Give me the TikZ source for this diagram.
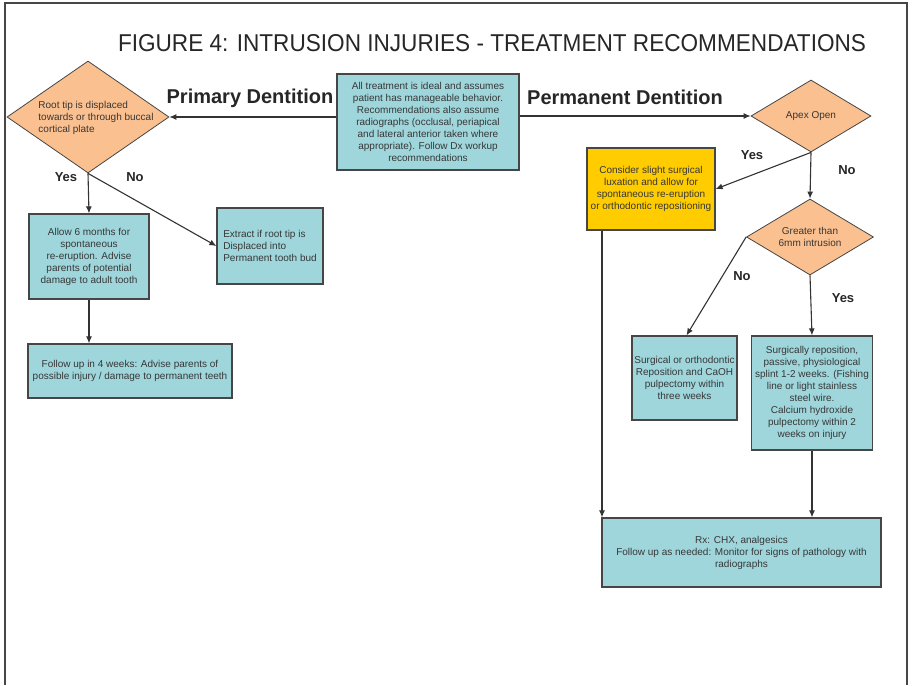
\documentclass[tikz,border=0pt]{standalone}
\usepackage{fontspec}
\setmainfont{Liberation Sans}
\usepackage{xcolor}
\usetikzlibrary{shapes.geometric,arrows.meta}
\definecolor{boxteal}{RGB}{158,214,220}
\definecolor{diamorange}{RGB}{250,192,143}
\definecolor{luxyellow}{RGB}{255,204,0}
\definecolor{edgegray}{RGB}{70,70,70}
\definecolor{txtgray}{RGB}{55,55,55}

\begin{document}
\begin{tikzpicture}[x=1pt, y=-1pt,
  box/.style={draw=edgegray, line width=1.2pt, fill=boxteal, inner sep=0pt},
  diam/.style={diamond, draw=edgegray, line width=0.8pt, fill=diamorange, inner sep=0pt},
  small/.style={font=\fontsize{10}{12}\selectfont, text=txtgray},
  branch/.style={font=\bfseries\fontsize{13}{13}\selectfont, text=black!85},
  side/.style={font=\bfseries\fontsize{20}{20}\selectfont, text=black!85},
  arr/.style={-{Latex[length=7pt,width=6pt]}, line width=1.1pt, draw=black!80}]
  \useasboundingbox (0,0) rectangle (912,685);

  % Frame and title
  \draw[edgegray, line width=1.6pt] (5,685) -- (5,3) -- (907,3) -- (907,685);
  \node[inner sep=0pt, text=black!85] (title) at (492,43)
    {\resizebox{748pt}{17pt}{\fontsize{24}{24}\selectfont FIGURE 4: INTRUSION INJURIES - TREATMENT RECOMMENDATIONS}};

  % Centre box
  \node[box, small, align=center, minimum width=182pt, minimum height=96pt] (info) at (428,122)
    {All treatment is ideal and assumes\\ patient has manageable behavior.\\ Recommendations also assume\\ radiographs (occlusal, periapical\\ and lateral anterior taken where\\ appropriate). Follow Dx workup\\ recommendations};

  % Primary dentition side
  \node[side] (prim) at (250,98) {Primary Dentition};
  \node[diam, minimum width=162pt, minimum height=112pt] (root) at (88,117) {};
  \node[small, align=left, inner sep=0pt] (root-txt) at (96,118)
    {Root tip is displaced\\ towards or through buccal\\ cortical plate};
  \node[box, small, align=center, minimum width=120pt, minimum height=85pt] (allow) at (89,256.5)
    {Allow 6 months for\\ spontaneous\\ re-eruption. Advise\\ parents of potential\\ damage to adult tooth};
  \node[box, small, align=left, minimum width=106pt, minimum height=76pt] (extract) at (270,246)
    {Extract if root tip is\\ Displaced into\\ Permanent tooth bud};
  \node[box, small, align=center, minimum width=204pt, minimum height=54pt] (follow) at (130,371)
    {Follow up in 4 weeks: Advise parents of\\ possible injury / damage to permanent teeth};

  % Permanent dentition side
  \node[side] (perm) at (625,97) {Permanent Dentition};
  \node[diam, small, minimum width=120pt, minimum height=72pt] (apex) at (811,116) {Apex Open};
  \node[box, fill=luxyellow, small, align=center, minimum width=128pt, minimum height=82pt] (lux) at (651,189)
    {Consider slight surgical\\ luxation and allow for\\ spontaneous re-eruption\\ or orthodontic repositioning};
  \node[diam, minimum width=127pt, minimum height=76pt] (deep) at (810,237) {};
  \node[small, align=center, inner sep=0pt] (deep-txt) at (deep) {Greater than\\ 6mm intrusion};
  \node[box, small, align=center, minimum width=105pt, minimum height=84pt] (ortho) at (684.5,378)
    {Surgical or orthodontic\\ Reposition and CaOH\\ pulpectomy within\\ three weeks};
  \node[box, small, align=center, minimum width=121pt, minimum height=114pt] (splint) at (812,393)
    {Surgically reposition,\\ passive, physiological\\ splint 1-2 weeks. (Fishing\\ line or light stainless\\ steel wire.\\ Calcium hydroxide\\ pulpectomy within 2\\ weeks on injury};
  \node[box, small, align=center, minimum width=279pt, minimum height=69pt] (rx) at (741.5,552.5)
    {Rx: CHX, analgesics\\ Follow up as needed: Monitor for signs of pathology with\\ radiographs};

  % Branch labels
  \node[branch] (yes-l) at (66,177) {Yes};
  \node[branch] (no-l) at (135,177) {No};
  \node[branch] (yes-a) at (752,155) {Yes};
  \node[branch] (no-a) at (847,170) {No};
  \node[branch] (no-g) at (742,276) {No};
  \node[branch] (yes-g) at (843,298) {Yes};

  % Connectors
  \draw[arr] (info.west |- root.east) -- (root.east);
  \draw[arr] (info.east |- apex.west) -- (apex.west);
  \draw[arr] (root.south) -- (allow.north);
  \draw[arr] (root.south) -- (extract.west);
  \draw[arr] (allow.south) -- (allow.south |- follow.north);
  \draw[arr] (apex.south) -- (lux.east);
  \draw[arr] (apex.south) -- (deep.north);
  \draw[arr] (deep.west) -- ([xshift=2pt]ortho.north);
  \draw[arr] (deep.south) -- (splint.north);
  \draw[arr] ([xshift=-49pt]lux.south) -- ([xshift=-49pt]lux.south |- rx.north);
  \draw[arr] (splint.south) -- (splint.south |- rx.north);
\end{tikzpicture}
\end{document}
